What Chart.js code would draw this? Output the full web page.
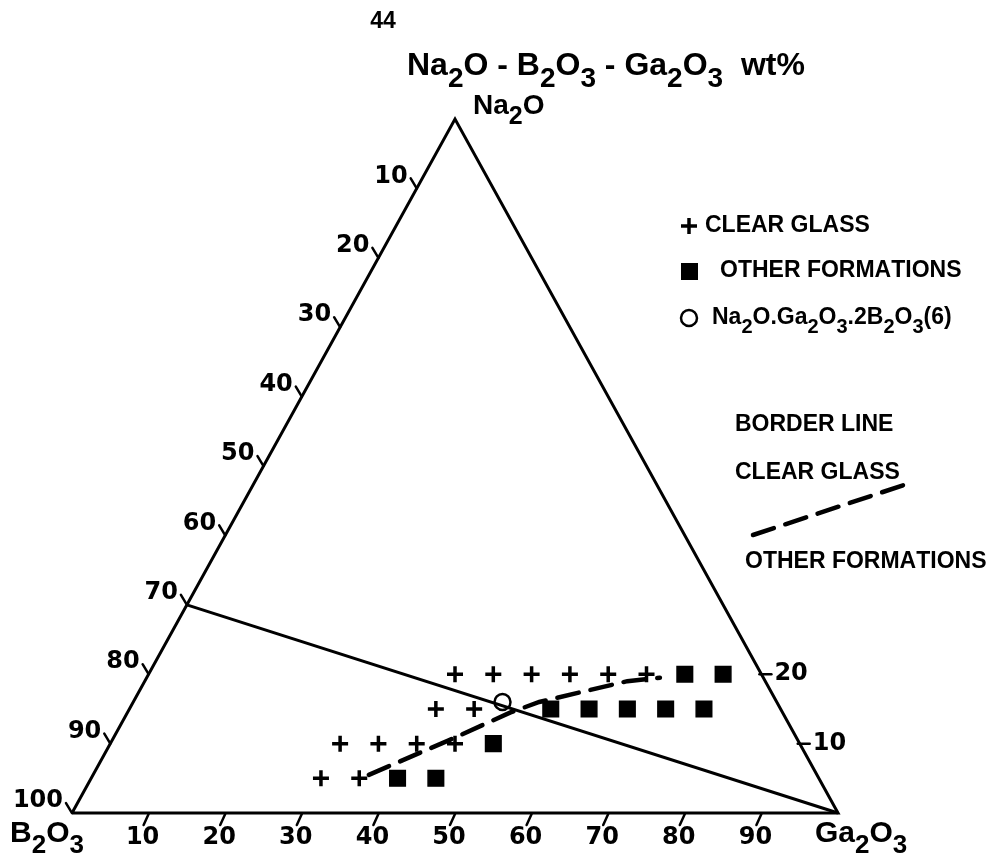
<!DOCTYPE html>
<html>
<head>
<meta charset="utf-8">
<script src="https://cdn.jsdelivr.net/npm/chart.js@4/dist/chart.umd.min.js"></script>
<style>
  body { margin: 0; background: #ffffff; }
  #wrap { width: 1005px; height: 863px; }
</style>
</head>
<body>
<div id="wrap"><canvas id="ternaryChart"></canvas></div>
<script>
// compositions in wt% (Na2O, Ga2O3; B2O3 is the rest)
let clearNa = [20, 20, 20, 20, 20, 20, 15, 15, 10, 10, 10, 10, 5, 5];
let clearGa = [40, 45, 50, 55, 60, 65, 40, 45, 30, 35, 40, 45, 30, 35];
let otherNa = [20, 20, 15, 15, 15, 15, 15, 10, 5, 5];
let otherGa = [70, 75, 55, 60, 65, 70, 75, 50, 40, 45];
let compoundNa = [16];
let compoundGa = [48.2];
let borderNa = [5.5, 10.5, 14.5, 16, 19, 19.5];
let borderGa = [36, 44, 50, 53, 63, 67];
// solid join line: 30 Na2O / 70 B2O3 to the Ga2O3 corner
let joinNa = [30, 0];
let joinGa = [0, 100];
let outlineNa = [0, 0, 100, 0];
let outlineGa = [0, 100, 0, 0];
let bottomTicks = [10, 20, 30, 40, 50, 60, 70, 80, 90];
let leftTicks = [10, 20, 30, 40, 50, 60, 70, 80, 90, 100];
let rightTicks = [10, 20];

const ink = "#000000";
const tickFont = "bold 24px 'DejaVu Sans'";
let toXY = (na, ga) => ({ x: ga + na / 2, y: na });
let points = (na, ga) => na.map((v, i) => toXY(v, ga[i]));

function drawFormula(ctx, str, x, y, size, align) {
  let mainFont = "bold " + size + "px 'Liberation Sans'";
  let subFont = "bold " + Math.round(size * 0.88) + "px 'Liberation Sans'";
  let parts = [];
  for (let i = 0; i < str.length; i++) {
    let c = str[i];
    let sub = /[0-9]/.test(c) && i > 0 && /[A-Za-z]/.test(str[i - 1]);
    parts.push({ c: c, sub: sub });
  }
  let width = 0;
  parts.forEach(p => {
    ctx.font = p.sub ? subFont : mainFont;
    p.w = ctx.measureText(p.c).width;
    width += p.w;
  });
  let cx = align === "center" ? x - width / 2 : x;
  ctx.textAlign = "left";
  ctx.textBaseline = "middle";
  parts.forEach(p => {
    ctx.font = p.sub ? subFont : mainFont;
    ctx.fillText(p.c, cx, p.sub ? y + size * 0.4 : y);
    cx += p.w;
  });
}

const labelPlugin = {
  id: "ternaryLabels",
  afterDatasetsDraw(chart) {
    const ctx = chart.ctx;
    const xs = chart.scales.x;
    const ys = chart.scales.y;
    let px = (na, ga) => {
      let p = toXY(na, ga);
      return [xs.getPixelForValue(p.x), ys.getPixelForValue(p.y)];
    };
    let seg = (x1, y1, x2, y2) => {
      ctx.beginPath();
      ctx.moveTo(x1, y1);
      ctx.lineTo(x2, y2);
      ctx.stroke();
    };
    ctx.save();
    ctx.strokeStyle = ink;
    ctx.fillStyle = ink;
    ctx.lineWidth = 2.5;
    ctx.lineCap = "round";
    ctx.font = tickFont;

    // Ga2O3 along the base
    bottomTicks.forEach(v => {
      let [x, y] = px(0, v);
      seg(x, y + 1, x - 5, y + 12);
      ctx.textAlign = "center";
      ctx.textBaseline = "middle";
      ctx.fillText(String(v), x - 6, y + 25);
    });
    // B2O3 along the left edge
    leftTicks.forEach(v => {
      let [x, y] = px(100 - v, 0);
      seg(x, y, x - 6, y - 10);
      ctx.textAlign = "right";
      ctx.textBaseline = "middle";
      ctx.fillText(String(v), x - 9, y - 12);
    });
    // Na2O along the right edge
    rightTicks.forEach(v => {
      let [x, y] = px(v, 100 - v);
      seg(x - 2, y, x + 10, y);
      ctx.textAlign = "left";
      ctx.textBaseline = "middle";
      ctx.fillText(String(v), x + 13, y);
    });

    // corner names and title
    ctx.font = "bold 23px 'Liberation Sans'";
    ctx.textAlign = "center";
    ctx.textBaseline = "middle";
    ctx.fillText("44", 383, 22);
    drawFormula(ctx, "Na2O - B2O3 - Ga2O3  wt%", 407, 66, 32, "left");
    drawFormula(ctx, "Na2O", 473, 106, 28, "left");
    drawFormula(ctx, "B2O3", 10, 834, 30, "left");
    drawFormula(ctx, "Ga2O3", 815, 834, 30, "left");

    // legend
    ctx.lineWidth = 3.5;
    ctx.lineCap = "butt";
    seg(681, 226, 697, 226);
    seg(689, 218, 689, 234);
    ctx.fillRect(681, 263, 17, 17);
    ctx.lineWidth = 2.5;
    ctx.beginPath();
    ctx.arc(689, 318, 8, 0, Math.PI * 2);
    ctx.stroke();
    drawFormula(ctx, "CLEAR GLASS", 705, 226, 23, "left");
    drawFormula(ctx, "OTHER FORMATIONS", 720, 271, 23, "left");
    drawFormula(ctx, "Na2O.Ga2O3.2B2O3(6)", 712, 318, 23, "left");

    drawFormula(ctx, "BORDER LINE", 735, 425, 23, "left");
    drawFormula(ctx, "CLEAR GLASS", 735, 473, 23, "left");
    drawFormula(ctx, "OTHER FORMATIONS", 745, 562, 23, "left");
    ctx.lineWidth = 4.5;
    ctx.lineCap = "round";
    ctx.setLineDash([22, 12]);
    seg(753, 535, 910, 483);
    ctx.restore();
  }
};

new Chart(document.querySelector("#ternaryChart"), {
  type: "scatter",
  data: {
    datasets: [
      {
        label: "CLEAR GLASS",
        data: points(clearNa, clearGa),
        pointStyle: "cross",
        pointRadius: 8,
        pointBorderWidth: 3.5,
        borderColor: ink,
        backgroundColor: ink,
      },
      {
        label: "OTHER FORMATIONS",
        data: points(otherNa, otherGa),
        pointStyle: "rect",
        pointRadius: 11,
        pointBorderWidth: 1.5,
        borderColor: ink,
        backgroundColor: ink,
      },
      {
        label: "Na2O.Ga2O3.2B2O3(6)",
        data: points(compoundNa, compoundGa),
        pointStyle: "circle",
        pointRadius: 8,
        pointBorderWidth: 2.5,
        borderColor: ink,
        backgroundColor: "rgba(0,0,0,0)",
      },
      {
        label: "border line",
        data: points(borderNa, borderGa),
        showLine: true,
        borderColor: ink,
        borderWidth: 4.5,
        borderDash: [22, 12],
        borderCapStyle: "round",
        pointRadius: 0,
      },
      {
        label: "join",
        data: points(joinNa, joinGa),
        showLine: true,
        borderColor: ink,
        borderWidth: 3,
        pointRadius: 0,
      },
      {
        label: "outline",
        data: points(outlineNa, outlineGa),
        showLine: true,
        borderColor: ink,
        borderWidth: 3,
        borderJoinStyle: "miter",
        pointRadius: 0,
      },
    ],
  },
  options: {
    responsive: true,
    maintainAspectRatio: false,
    animation: false,
    layout: { padding: 0, autoPadding: false },
    scales: {
      x: { type: "linear", min: -9.4, max: 121.8, display: false },
      y: { type: "linear", min: -7.2, max: 117.15, display: false },
    },
    plugins: {
      legend: { display: false },
      tooltip: { enabled: false },
    },
  },
  plugins: [labelPlugin],
});
</script>
</body>
</html>
